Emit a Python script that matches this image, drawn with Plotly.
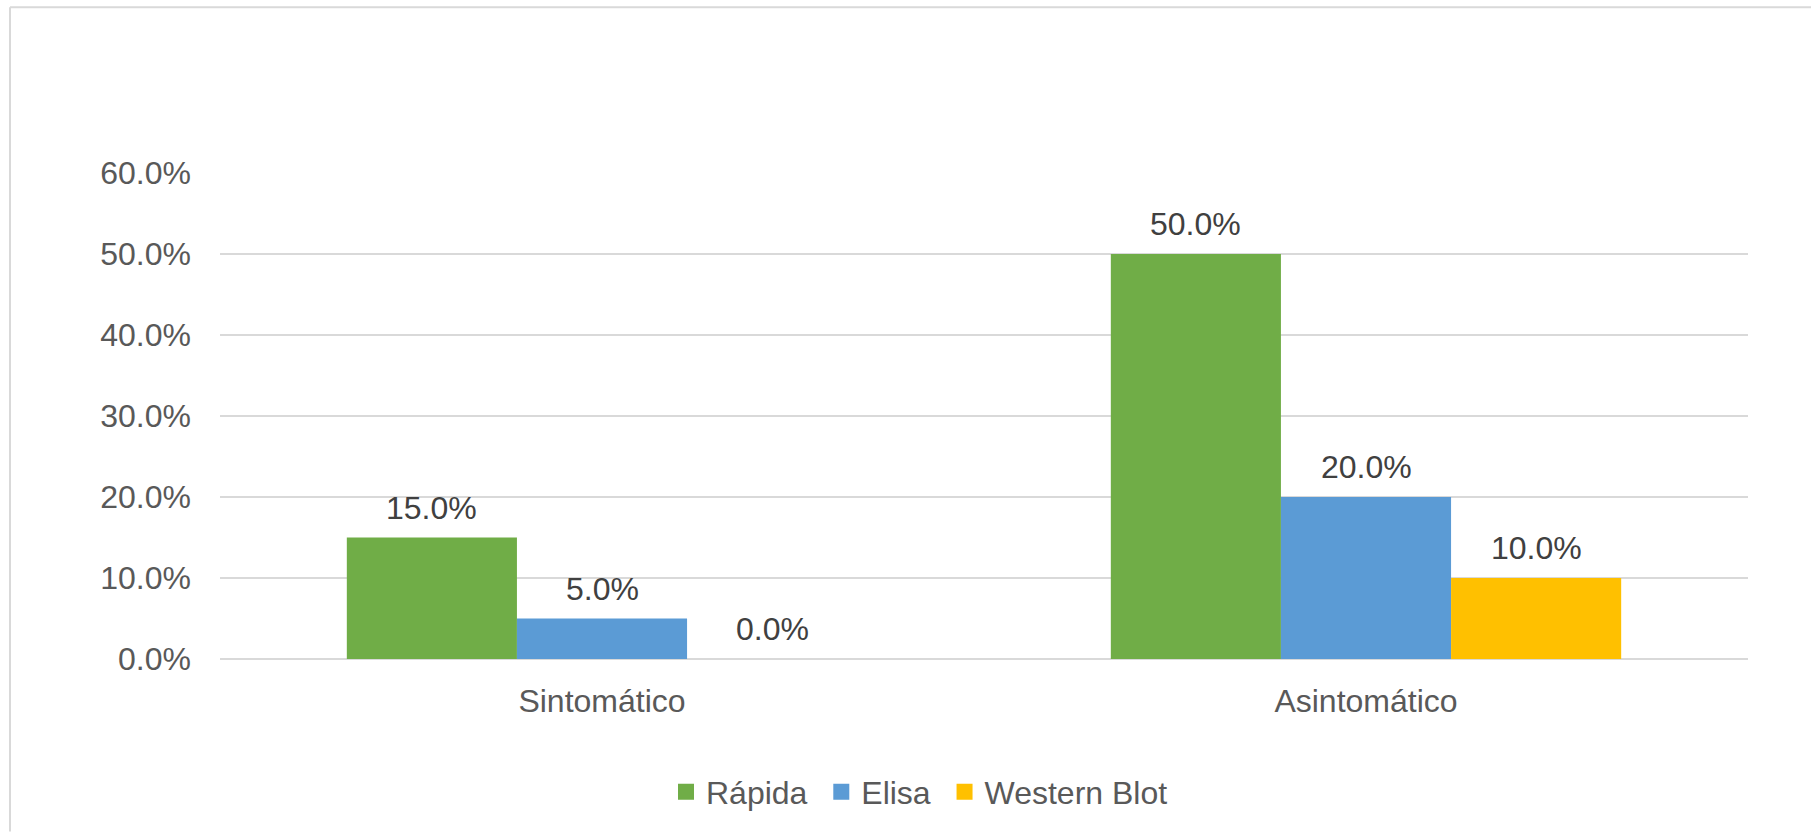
import plotly.graph_objects as go

categories = ["Sintomático", "Asintomático"]
series_names = ["Rápida", "Elisa", "Western Blot"]
rapida = [0.15, 0.50]
elisa = [0.05, 0.20]
western = [0.0, 0.10]
colors = ["#70AD47", "#5B9BD5", "#FFC000"]

W, H = 1811, 832
L, R, T, B = 220, 63, 173, 169
FONT = "Liberation Sans, Arial"
FS = 32

pw = W - L - R
ph = H - T - B
bargap = 0.332
n_series = 3
bar_px = pw / len(categories) * (1 - bargap) / n_series

fig = go.Figure()
annotations = []
for i, (name, vals, col) in enumerate(zip(series_names, [rapida, elisa, western], colors)):
    fig.add_trace(go.Bar(
        x=categories, y=vals, name=name, showlegend=False,
        marker=dict(color=col, line=dict(width=0)),
    ))
    # legend proxy with a larger square swatch (trailing nbsp widens entry spacing)
    fig.add_trace(go.Scatter(
        x=[None], y=[None], mode="markers", name=name + "\u00a0",
        marker=dict(symbol="square", size=17, color=col),
    ))
    for c, v in zip(categories, vals):
        annotations.append(dict(
            x=c, y=v, xref="x", yref="y", text=f"{v:.1%}", showarrow=False,
            xshift=(i - 1) * bar_px, yshift=30, yanchor="middle",
            font=dict(family=FONT, size=FS, color="#404040"),
        ))

fig.update_layout(
    width=W, height=H,
    margin=dict(l=L, r=R, t=T, b=B, pad=0),
    paper_bgcolor="white", plot_bgcolor="white",
    barmode="group", bargap=bargap, bargroupgap=0,
    font=dict(family=FONT, size=FS, color="#595959"),
    showlegend=True,
    legend=dict(orientation="h", x=(666 - L) / pw, xanchor="left",
                y=(H - 797 - B) / ph, yanchor="middle",
                font=dict(size=FS, color="#595959"),
                itemwidth=30, itemsizing="trace", bgcolor="rgba(0,0,0,0)"),
    xaxis=dict(showgrid=False, showline=False, ticks="", zeroline=False,
               tickfont=dict(size=FS, color="#595959"), ticklabelstandoff=20),
    yaxis=dict(range=[0, 0.6], dtick=0.1, tickformat=".1%", showgrid=True,
               gridcolor="#D9D9D9", gridwidth=1.5, zeroline=True,
               zerolinecolor="#D9D9D9", zerolinewidth=1.5, showline=False,
               ticks="", tickfont=dict(size=FS, color="#595959"),
               ticklabelstandoff=28),
    annotations=annotations,
    shapes=[dict(type="line", xref="paper", yref="paper",
                 x0=(10 - L) / pw, x1=(10 - L) / pw,
                 y0=(H - 6 - B) / ph, y1=-B / ph - 0.01,
                 line=dict(color="#D9D9D9", width=2)),
            dict(type="line", xref="paper", yref="paper",
                 x0=(10 - L) / pw, x1=(W + 5 - L) / pw,
                 y0=(H - 6 - B) / ph, y1=(H - 6 - B) / ph,
                 line=dict(color="#D9D9D9", width=2))],
)

fig.write_html("out.html")
